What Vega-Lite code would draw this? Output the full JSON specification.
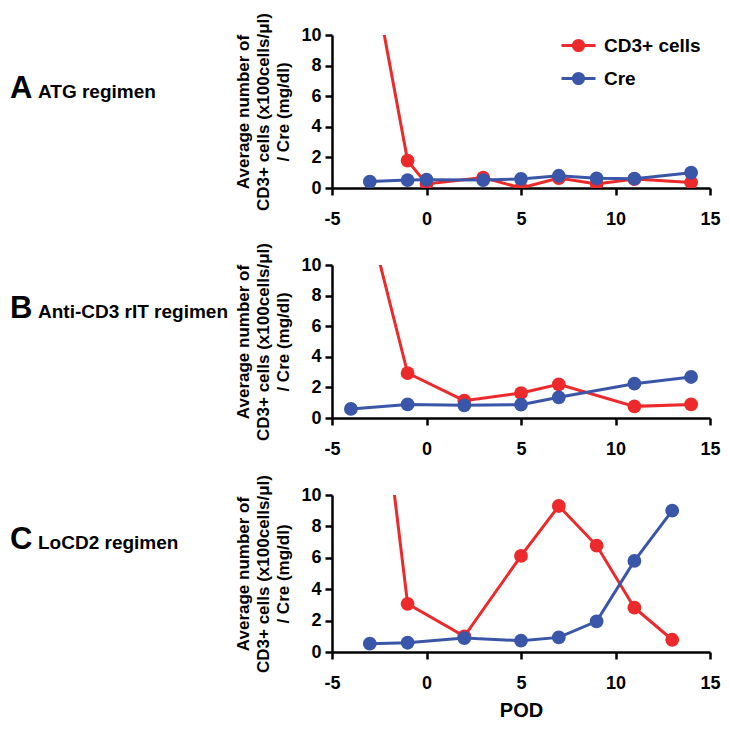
{
  "$schema": "https://vega.github.io/schema/vega-lite/v6.json",
  "padding": {"left": 10, "top": 12, "right": 5, "bottom": 5},
  "background": "white",
  "datasets": {
    "atg": [
      {"pod": -3, "value": 15.1, "series": "CD3+ cells"},
      {"pod": -1, "value": 1.79, "series": "CD3+ cells"},
      {"pod": 0, "value": 0.27, "series": "CD3+ cells"},
      {"pod": 3, "value": 0.68, "series": "CD3+ cells"},
      {"pod": 5, "value": 0.0, "series": "CD3+ cells"},
      {"pod": 7, "value": 0.65, "series": "CD3+ cells"},
      {"pod": 9, "value": 0.27, "series": "CD3+ cells"},
      {"pod": 11, "value": 0.58, "series": "CD3+ cells"},
      {"pod": 14, "value": 0.36, "series": "CD3+ cells"},
      {"pod": -3, "value": 0.42, "series": "Cre"},
      {"pod": -1, "value": 0.52, "series": "Cre"},
      {"pod": 0, "value": 0.54, "series": "Cre"},
      {"pod": 3, "value": 0.52, "series": "Cre"},
      {"pod": 5, "value": 0.59, "series": "Cre"},
      {"pod": 7, "value": 0.8, "series": "Cre"},
      {"pod": 9, "value": 0.63, "series": "Cre"},
      {"pod": 11, "value": 0.61, "series": "Cre"},
      {"pod": 14, "value": 1.0, "series": "Cre"}
    ],
    "rit": [
      {"pod": -4, "value": 17.6, "series": "CD3+ cells"},
      {"pod": -1, "value": 2.94, "series": "CD3+ cells"},
      {"pod": 2, "value": 1.13, "series": "CD3+ cells"},
      {"pod": 5, "value": 1.63, "series": "CD3+ cells"},
      {"pod": 7, "value": 2.2, "series": "CD3+ cells"},
      {"pod": 11, "value": 0.76, "series": "CD3+ cells"},
      {"pod": 14, "value": 0.89, "series": "CD3+ cells"},
      {"pod": -4, "value": 0.59, "series": "Cre"},
      {"pod": -1, "value": 0.89, "series": "Cre"},
      {"pod": 2, "value": 0.83, "series": "Cre"},
      {"pod": 5, "value": 0.87, "series": "Cre"},
      {"pod": 7, "value": 1.35, "series": "Cre"},
      {"pod": 11, "value": 2.24, "series": "Cre"},
      {"pod": 14, "value": 2.68, "series": "Cre"}
    ],
    "locd2": [
      {"pod": -3, "value": 23.0, "series": "CD3+ cells"},
      {"pod": -1, "value": 3.07, "series": "CD3+ cells"},
      {"pod": 2, "value": 1.0, "series": "CD3+ cells"},
      {"pod": 5, "value": 6.12, "series": "CD3+ cells"},
      {"pod": 7, "value": 9.3, "series": "CD3+ cells"},
      {"pod": 9, "value": 6.78, "series": "CD3+ cells"},
      {"pod": 11, "value": 2.82, "series": "CD3+ cells"},
      {"pod": 13, "value": 0.78, "series": "CD3+ cells"},
      {"pod": -3, "value": 0.53, "series": "Cre"},
      {"pod": -1, "value": 0.59, "series": "Cre"},
      {"pod": 2, "value": 0.89, "series": "Cre"},
      {"pod": 5, "value": 0.72, "series": "Cre"},
      {"pod": 7, "value": 0.93, "series": "Cre"},
      {"pod": 9, "value": 1.95, "series": "Cre"},
      {"pod": 11, "value": 5.8, "series": "Cre"},
      {"pod": 13, "value": 9.0, "series": "Cre"}
    ]
  },
  "vconcat": [
    {
      "width": 378,
      "height": 153,
      "layer": [
        {
          "data": {"name": "atg"},
          "mark": {"type": "line", "clip": true, "strokeWidth": 3},
          "encoding": {
            "x": {"field": "pod", "type": "quantitative", "scale": {"domain": [-5, 15], "nice": false}, "axis": {"values": [-5, 0, 5, 10, 15], "title": null}},
            "y": {"field": "value", "type": "quantitative", "scale": {"domain": [0, 10], "nice": false}, "axis": {"values": [0, 2, 4, 6, 8, 10], "title": ["Average number of", "CD3+ cells (x100cells/μl)", "/ Cre (mg/dl)"]}},
            "color": {
              "field": "series", "type": "nominal", "scale": {"domain": ["CD3+ cells", "Cre"], "range": ["#ec2a2b", "#3a56a8"]},
              "legend": {
                "title": null, "orient": "none", "legendX": 228, "legendY": -8,
                "symbolType": "M-1,0L1,0M0.3,0A0.3,0.3,0,1,1,-0.3,0A0.3,0.3,0,1,1,0.3,0Z",
                "symbolSize": 1156, "symbolStrokeWidth": 3, "symbolOpacity": 1,
                "labelFont": "Liberation Sans", "labelFontWeight": "bold", "labelFontSize": 19, "labelColor": "black",
                "labelOffset": 7, "rowPadding": 3,
                "encode": {"symbols": {"update": {"stroke": {"scale": "color", "field": "value"}, "fill": {"scale": "color", "field": "value"}}}}
              }
            }
          }
        },
        {
          "data": {"name": "atg"},
          "mark": {"type": "point", "filled": true, "opacity": 1, "size": 190, "clip": true},
          "encoding": {
            "x": {"field": "pod", "type": "quantitative", "scale": {"domain": [-5, 15], "nice": false}, "axis": {"values": [-5, 0, 5, 10, 15], "title": null}},
            "y": {"field": "value", "type": "quantitative", "scale": {"domain": [0, 10], "nice": false}, "axis": {"values": [0, 2, 4, 6, 8, 10], "title": ["Average number of", "CD3+ cells (x100cells/μl)", "/ Cre (mg/dl)"]}},
            "color": {
              "field": "series", "type": "nominal", "scale": {"domain": ["CD3+ cells", "Cre"], "range": ["#ec2a2b", "#3a56a8"]},
              "legend": {
                "title": null, "orient": "none", "legendX": 228, "legendY": -8,
                "symbolType": "M-1,0L1,0M0.3,0A0.3,0.3,0,1,1,-0.3,0A0.3,0.3,0,1,1,0.3,0Z",
                "symbolSize": 1156, "symbolStrokeWidth": 3, "symbolOpacity": 1,
                "labelFont": "Liberation Sans", "labelFontWeight": "bold", "labelFontSize": 19, "labelColor": "black",
                "labelOffset": 7, "rowPadding": 3,
                "encode": {"symbols": {"update": {"stroke": {"scale": "color", "field": "value"}, "fill": {"scale": "color", "field": "value"}}}}
              }
            }
          }
        },
        {
          "data": {"values": [{"letter": "A", "name": "ATG regimen"}]},
          "mark": {"type": "text", "font": "Liberation Sans", "fontWeight": "bold", "fontSize": 31, "align": "left", "baseline": "alphabetic", "dx": -511, "dy": -13.5, "color": "black"},
          "encoding": {"text": {"field": "letter"}}
        },
        {
          "data": {"values": [{"letter": "A", "name": "ATG regimen"}]},
          "mark": {"type": "text", "font": "Liberation Sans", "fontWeight": "bold", "fontSize": 19, "align": "left", "baseline": "alphabetic", "dx": -483, "dy": -13.5, "color": "black"},
          "encoding": {"text": {"field": "name"}}
        }
      ]
    },
    {
      "width": 378,
      "height": 153,
      "layer": [
        {
          "data": {"name": "rit"},
          "mark": {"type": "line", "clip": true, "strokeWidth": 3},
          "encoding": {
            "x": {"field": "pod", "type": "quantitative", "scale": {"domain": [-5, 15], "nice": false}, "axis": {"values": [-5, 0, 5, 10, 15], "title": null}},
            "y": {"field": "value", "type": "quantitative", "scale": {"domain": [0, 10], "nice": false}, "axis": {"values": [0, 2, 4, 6, 8, 10], "title": ["Average number of", "CD3+ cells (x100cells/μl)", "/ Cre (mg/dl)"]}},
            "color": {"field": "series", "type": "nominal", "scale": {"domain": ["CD3+ cells", "Cre"], "range": ["#ec2a2b", "#3a56a8"]}, "legend": null}
          }
        },
        {
          "data": {"name": "rit"},
          "mark": {"type": "point", "filled": true, "opacity": 1, "size": 190, "clip": true},
          "encoding": {
            "x": {"field": "pod", "type": "quantitative", "scale": {"domain": [-5, 15], "nice": false}, "axis": {"values": [-5, 0, 5, 10, 15], "title": null}},
            "y": {"field": "value", "type": "quantitative", "scale": {"domain": [0, 10], "nice": false}, "axis": {"values": [0, 2, 4, 6, 8, 10], "title": ["Average number of", "CD3+ cells (x100cells/μl)", "/ Cre (mg/dl)"]}},
            "color": {"field": "series", "type": "nominal", "scale": {"domain": ["CD3+ cells", "Cre"], "range": ["#ec2a2b", "#3a56a8"]}, "legend": null}
          }
        },
        {
          "data": {"values": [{"letter": "B", "name": "Anti-CD3 rIT regimen"}]},
          "mark": {"type": "text", "font": "Liberation Sans", "fontWeight": "bold", "fontSize": 31, "align": "left", "baseline": "alphabetic", "dx": -511, "dy": -23.5, "color": "black"},
          "encoding": {"text": {"field": "letter"}}
        },
        {
          "data": {"values": [{"letter": "B", "name": "Anti-CD3 rIT regimen"}]},
          "mark": {"type": "text", "font": "Liberation Sans", "fontWeight": "bold", "fontSize": 19, "align": "left", "baseline": "alphabetic", "dx": -483, "dy": -23.5, "color": "black"},
          "encoding": {"text": {"field": "name"}}
        }
      ]
    },
    {
      "width": 378,
      "height": 157,
      "layer": [
        {
          "data": {"name": "locd2"},
          "mark": {"type": "line", "clip": true, "strokeWidth": 3},
          "encoding": {
            "x": {"field": "pod", "type": "quantitative", "scale": {"domain": [-5, 15], "nice": false}, "axis": {"values": [-5, 0, 5, 10, 15], "title": "POD", "titleFontSize": 20, "titlePadding": 8}},
            "y": {"field": "value", "type": "quantitative", "scale": {"domain": [0, 10], "nice": false}, "axis": {"values": [0, 2, 4, 6, 8, 10], "title": ["Average number of", "CD3+ cells (x100cells/μl)", "/ Cre (mg/dl)"]}},
            "color": {"field": "series", "type": "nominal", "scale": {"domain": ["CD3+ cells", "Cre"], "range": ["#ec2a2b", "#3a56a8"]}, "legend": null}
          }
        },
        {
          "data": {"name": "locd2"},
          "mark": {"type": "point", "filled": true, "opacity": 1, "size": 190, "clip": true},
          "encoding": {
            "x": {"field": "pod", "type": "quantitative", "scale": {"domain": [-5, 15], "nice": false}, "axis": {"values": [-5, 0, 5, 10, 15], "title": "POD", "titleFontSize": 20, "titlePadding": 8}},
            "y": {"field": "value", "type": "quantitative", "scale": {"domain": [0, 10], "nice": false}, "axis": {"values": [0, 2, 4, 6, 8, 10], "title": ["Average number of", "CD3+ cells (x100cells/μl)", "/ Cre (mg/dl)"]}},
            "color": {"field": "series", "type": "nominal", "scale": {"domain": ["CD3+ cells", "Cre"], "range": ["#ec2a2b", "#3a56a8"]}, "legend": null}
          }
        },
        {
          "data": {"values": [{"letter": "C", "name": "LoCD2 regimen"}]},
          "mark": {"type": "text", "font": "Liberation Sans", "fontWeight": "bold", "fontSize": 31, "align": "left", "baseline": "alphabetic", "dx": -511, "dy": -24.5, "color": "black"},
          "encoding": {"text": {"field": "letter"}}
        },
        {
          "data": {"values": [{"letter": "C", "name": "LoCD2 regimen"}]},
          "mark": {"type": "text", "font": "Liberation Sans", "fontWeight": "bold", "fontSize": 19, "align": "left", "baseline": "alphabetic", "dx": -483, "dy": -24.5, "color": "black"},
          "encoding": {"text": {"field": "name"}}
        }
      ]
    }
  ],
  "spacing": 77,
  "bounds": "flush",
  "resolve": {"legend": {"color": "independent"}},
  "config": {
    "view": {"stroke": null},
    "font": "Liberation Sans",
    "axis": {
      "grid": false,
      "domainColor": "black", "domainWidth": 2.5,
      "tickColor": "black", "tickWidth": 2.5, "tickSize": 7,
      "labelFont": "Liberation Sans", "labelFontWeight": "bold", "labelFontSize": 18, "labelColor": "black",
      "labelFlush": false, "labelOverlap": false,
      "titleFont": "Liberation Sans", "titleFontWeight": "bold", "titleColor": "black"
    },
    "axisX": {"labelPadding": 15, "labelExpr": "'' + datum.value"},
    "axisY": {"labelPadding": 4, "titleFontSize": 17, "titleLineHeight": 20, "titlePadding": 8}
  }
}
